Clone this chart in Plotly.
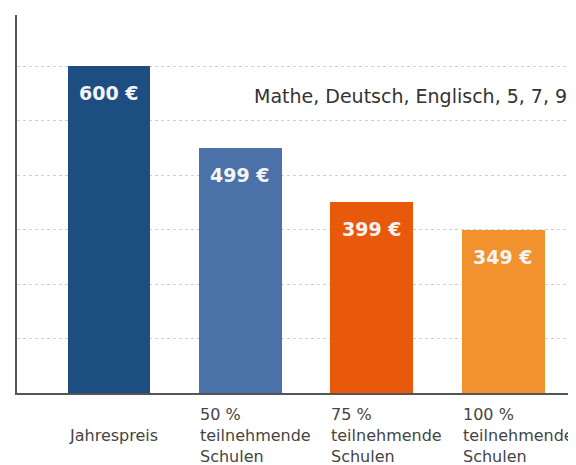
import plotly.graph_objects as go

# Data
categories = ["Jahrespreis", "50 %<br>teilnehmende<br>Schulen",
              "75 %<br>teilnehmende<br>Schulen", "100 %<br>teilnehmende<br>Schulen"]
bar_heights = [600, 450, 350, 300]          # drawn heights (grid step = 100)
price_labels = ["600 €", "499 €", "399 €", "349 €"]
bar_colors = ["#1d4e82", "#4b72a8", "#e8590c", "#f2922e"]
subtitle = "Mathe, Deutsch, Englisch, 5, 7, 9"

x_idx = list(range(len(categories)))
bar_w = 0.63

fig = go.Figure()
fig.add_trace(go.Bar(
    x=x_idx, y=bar_heights, width=bar_w,
    marker=dict(color=bar_colors, line=dict(width=0)),
    hoverinfo="skip", showlegend=False,
))

FONT = "DejaVu Sans"

# price labels inside bar tops
for xi, h, lab in zip(x_idx, bar_heights, price_labels):
    fig.add_annotation(x=xi, y=h, xref="x", yref="y", text=lab,
                       showarrow=False, yanchor="middle", yshift=-27,
                       font=dict(family=FONT, size=19, color="#f4f4f4", weight="bold"))

# category labels, left-aligned at bar left edge
for xi, cat in zip(x_idx, categories):
    fig.add_annotation(x=xi - bar_w / 2, y=0, xref="x", yref="paper", text=cat,
                       showarrow=False, xanchor="left", yanchor="middle", align="left",
                       yshift=-42, xshift=-1,
                       font=dict(family=FONT, size=16, color="#444444"))

fig.add_annotation(x=1, y=1, xref="paper", yref="paper", text=subtitle,
                   showarrow=False, xanchor="right", yanchor="middle",
                   xshift=-4, yshift=-81,
                   font=dict(family=FONT, size=19, color="#333333"))

fig.update_layout(
    width=568, height=457,
    margin=dict(l=9, r=3, t=7, b=72),
    paper_bgcolor="white", plot_bgcolor="white",
    xaxis=dict(range=[-0.70, 3.53], showticklabels=False, ticks="",
               showgrid=False, zeroline=False, showline=True,
               linecolor="#555555", linewidth=2),
    yaxis=dict(range=[0, 694], showticklabels=False, ticks="",
               dtick=100, showgrid=True, gridcolor="#cfcfcf", gridwidth=1,
               griddash="dot", zeroline=False, showline=True,
               linecolor="#555555", linewidth=2),
    bargap=0,
)

fig.write_html("out.html")
